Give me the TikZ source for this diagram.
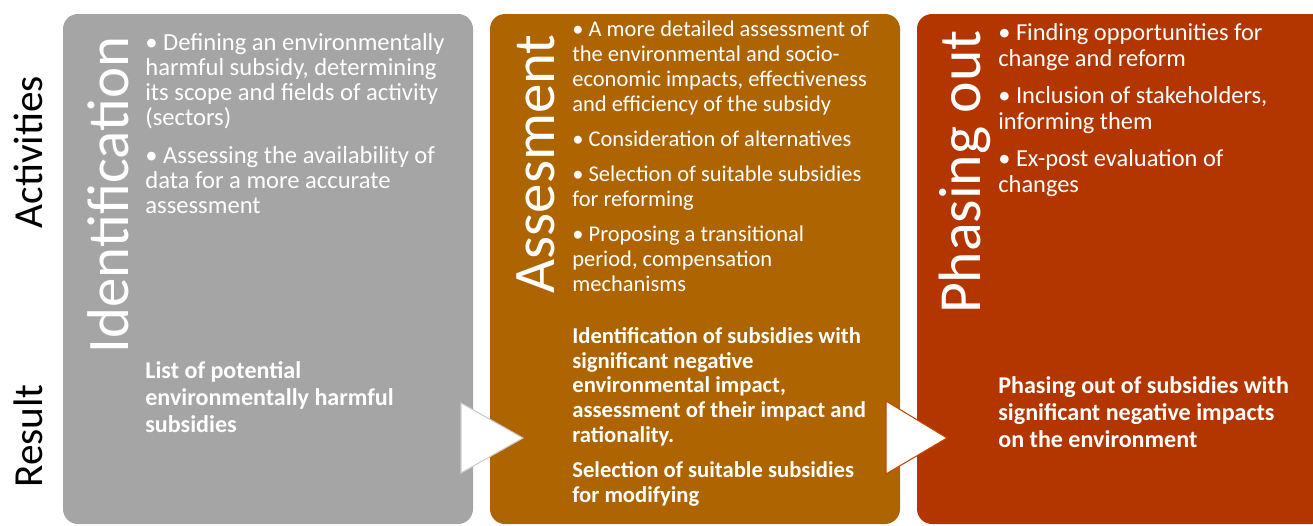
\documentclass[tikz,border=0pt]{standalone}
\usepackage{fontspec}
\setmainfont{Carlito}
\definecolor{stepgrey}{RGB}{165,165,165}
\definecolor{stepbrown}{RGB}{174,100,0}
\definecolor{steprust}{RGB}{179,54,0}

\begin{document}
\begin{tikzpicture}[x=0.02cm,y=-0.02cm,
    panel/.style={rounded corners=0.3cm},
    phase/.style={rotate=90,anchor=base,text=white,inner sep=0pt,font=\fontsize{33.5}{40}\selectfont},
    rowlabel/.style={rotate=90,anchor=base,inner sep=0pt,font=\fontsize{23.5}{28}\selectfont},
    bullets/.style={anchor=base west,align=left,text=white,inner sep=0pt},
    chevron/.style={fill=white,line width=0.6pt,line join=miter}]
  \useasboundingbox (0,0) rectangle (1313,525);
  \clip (0,0) rectangle (1313,525);

  % the three stages
  \fill[stepgrey,panel] (63,14) rectangle (473,524);
  \fill[stepbrown,panel] (490,14) rectangle (900,524);
  \fill[steprust,panel] (917,14) rectangle (1327,524);

  % arrows between the stages
  \draw[chevron,draw=white!60!gray] (461,403) -- (523,438) -- (461,473) -- cycle;
  \draw[chevron,draw=steprust!80!orange] (886,401) -- (947,438) -- (886,474) -- cycle;

  % row labels
  \node[rowlabel] (activities) at (42,152) {Activities};
  \node[rowlabel] (result) at (42,436) {Result};

  % stage titles
  \node[phase] (ident) at (128,195) {Identification};
  \node[phase] (assess) at (554,164) {Assesment};
  \node[phase] (phase) at (980,172) {\fontsize{34}{40}\selectfont Phasing out};

  % activities (placed by the baseline of the last line)
  \node[bullets,font=\fontsize{14}{14.2}\selectfont] (identact) at (145,213)
    {• Defining an environmentally\\ harmful subsidy, determining\\ its scope and fields of activity\\ (sectors)\\[7.4pt]
     • Assessing the availability of\\ data for a more accurate\\ assessment};
  \node[bullets,font=\fontsize{12.8}{14.2}\selectfont] (assessact) at (572,291)
    {• A more detailed assessment of\\ the environmental and socio-\\ economic impacts, effectiveness\\ and efficiency of the subsidy\\[5.7pt]
     • Consideration of alternatives\\[5.7pt]
     • Selection of suitable subsidies\\ for reforming\\[5.7pt]
     • Proposing a transitional\\ period, compensation\\ mechanisms};
  \node[bullets,font=\fontsize{13.9}{14.8}\selectfont] (phaseact) at (998,192)
    {• Finding opportunities for\\ change and reform\\[6.2pt]
     • Inclusion of stakeholders,\\ informing them\\[6.2pt]
     • Ex-post evaluation of\\ changes};

  % results
  \node[bullets,font=\bfseries\fontsize{13.7}{15.3}\selectfont] (identres) at (145,432)
    {List of potential\\ environmentally harmful\\ subsidies};
  \node[bullets,font=\bfseries\fontsize{12.9}{14.1}\selectfont] (assessres) at (572,502)
    {Identification of subsidies with\\ significant negative\\ environmental impact,\\ assessment of their impact and\\ rationality.\\[5.7pt]
     Selection of suitable subsidies\\ for modifying};
  \node[bullets,font=\bfseries\fontsize{13.7}{15.3}\selectfont] (phaseres) at (998,447)
    {Phasing out of subsidies with\\ significant negative impacts\\ on the environment};
\end{tikzpicture}
\end{document}
